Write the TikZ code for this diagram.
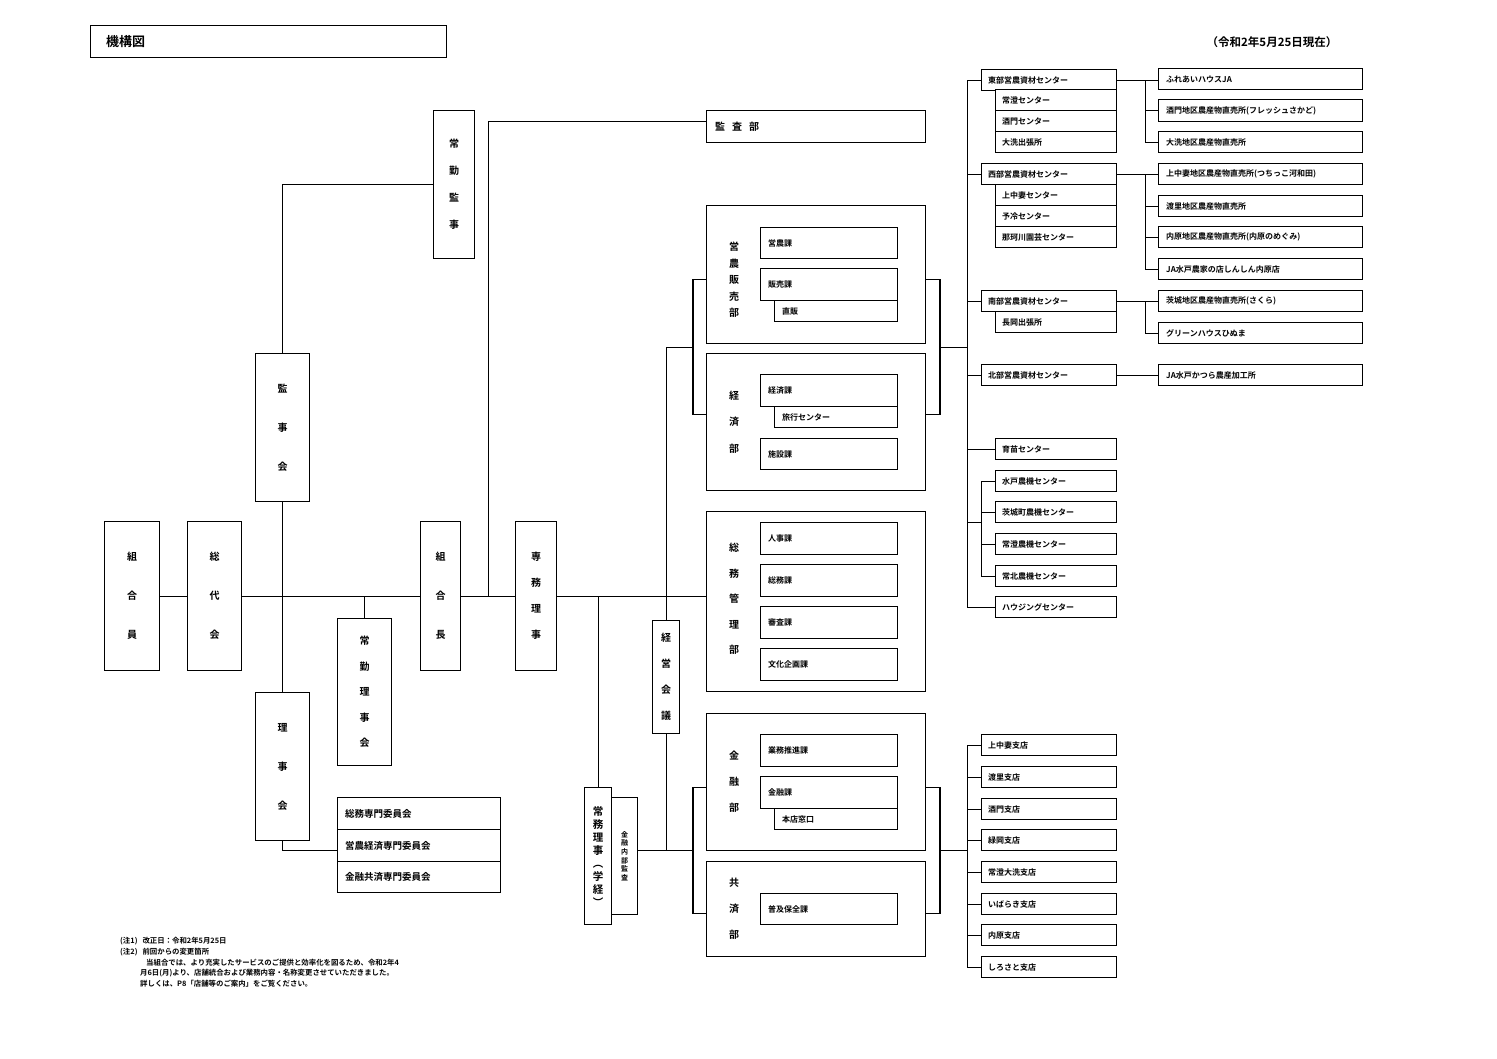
\documentclass[tikz,border=0pt]{standalone}
\usepackage{fontspec}
\newfontfamily\jp{Noto Sans CJK JP}[BoldFont={Noto Sans CJK JP Bold}]
\usetikzlibrary{calc}
\tikzset{
  bx/.style={draw, line width=1.2pt, inner sep=0pt, anchor=north west, fill=white},
  ln/.style={line width=0.9pt},
  tk/.style={line width=1.6pt},
  t8/.style={font=\jp\bfseries\fontsize{8}{9.6}\selectfont, inner sep=0pt},
  vt/.style n args={2}{align=center, inner sep=0pt, font=\jp\bfseries\fontsize{#1}{#2}\selectfont},
  nt/.style={font=\jp\bfseries\fontsize{7.4}{9}\selectfont, inner sep=0pt, anchor=west}
}
\newcommand\hb[7][8]{%
  \node[bx, minimum width=#5, minimum height=#6] (#2) at (#3,#4) {};
  \node[t8, anchor=west] (#2t) at ([xshift=#1]#2.west) {#7};}
\newcommand\vb[8][10]{%
  \node[bx, minimum width=#5, minimum height=#6] (#2) at (#3,#4) {};
  \node[vt={#1}{#7}] (#2t) at (#2.center) {#8};}
\begin{document}
\begin{tikzpicture}[x=1pt,y=-1pt]
\fill[white] (0,0) rectangle (1497,1058);
\useasboundingbox (0,0) rectangle (1497,1058);

% title and date
\hb[16]{title}{90}{25}{356}{32}{\fontsize{13}{15}\selectfont 機構図}
\node[t8, font=\jp\bfseries\fontsize{11.5}{13}\selectfont] (date) at (1272,42) {（令和2年5月25日現在）};

% left governance
\vb{jkanji}{433}{110}{41}{148}{27}{常\\勤\\監\\事}
\hb[9]{kansa}{706}{110}{219}{32}{\fontsize{10}{12}\selectfont 監\hspace{7pt}査\hspace{7pt}部}
\vb{kanjikai}{255}{353}{54}{148}{39}{監\\事\\会}
\vb{kumiaiin}{104}{521}{55}{149}{39}{組\\合\\員}
\vb{sodai}{187}{521}{54}{149}{39}{総\\代\\会}
\vb{kumiaicho}{420}{521}{40}{149}{39}{組\\合\\長}
\vb{senmu}{515}{521}{41}{149}{26}{専\\務\\理\\事}
\vb{jriji}{337}{618}{54}{147}{25.5}{常\\勤\\理\\事\\会}
\vb{rijikai}{255}{692}{54}{148}{39}{理\\事\\会}
\vb{keiei}{652}{620}{27}{113}{26}{経\\営\\会\\議}
\vb[10.5]{jomu}{584}{787}{27}{137}{13}{常\\務\\理\\事\\︵\\学\\経\\︶}
\vb[7]{naibu}{611}{797}{26}{117}{8.6}{金\\融\\内\\部\\監\\査}

\hb{iin1}{337}{797}{163}{32}{\fontsize{9.5}{11}\selectfont 総務専門委員会}
\hb{iin2}{337}{829}{163}{32}{\fontsize{9.5}{11}\selectfont 営農経済専門委員会}
\hb{iin3}{337}{861}{163}{31}{\fontsize{9.5}{11}\selectfont 金融共済専門委員会}

% departments
\node[bx, minimum width=219, minimum height=138] (einou) at (706,205) {};
\node[vt={10}{16.5}] (einout) at (734,280) {営\\農\\販\\売\\部};
\hb{einouka}{760}{227}{137}{31}{営農課}
\hb{chokuhan}{774}{300}{123}{21}{直販}
\hb{hanbai}{760}{268}{137}{32}{販売課}

\node[bx, minimum width=219, minimum height=137] (keizai) at (706,353) {};
\node[vt={10}{26.5}] (keizait) at (734,422) {経\\済\\部};
\hb{ryoko}{774}{406}{123}{21}{旅行センター}
\hb{keizaika}{760}{374}{137}{32}{経済課}
\hb{shisetsu}{760}{438}{137}{31}{施設課}

\node[bx, minimum width=219, minimum height=180] (somu) at (706,511) {};
\node[vt={10}{25.5}] (somut) at (734,599) {総\\務\\管\\理\\部};
\hb{jinji}{760}{522}{137}{32}{人事課}
\hb{somuka}{760}{564}{137}{32}{総務課}
\hb{shinsa}{760}{606}{137}{32}{審査課}
\hb{bunka}{760}{648}{137}{32}{文化企画課}

\node[bx, minimum width=219, minimum height=137] (kinyu) at (706,713) {};
\node[vt={10}{26}] (kinyut) at (734,782) {金\\融\\部};
\hb{gyomu}{760}{734}{137}{32}{業務推進課}
\hb{honten}{774}{808}{123}{21}{本店窓口}
\hb{kinyuka}{760}{776}{137}{32}{金融課}

\node[bx, minimum width=219, minimum height=95] (kyosai) at (706,861) {};
\node[vt={10}{26}] (kyosait) at (734,909) {共\\済\\部};
\hb{fukyu}{760}{893}{137}{31}{普及保全課}

% right: centers
\hb[7]{tobu}{981}{69}{135}{21}{東部営農資材センター}
\hb[7]{tbsa}{995}{89}{121}{21}{常澄センター}
\hb[7]{tbsb}{995}{110}{121}{21}{酒門センター}
\hb[7]{tbsc}{995}{131}{121}{21}{大洗出張所}
\hb{ra}{1158}{68}{204}{21}{ふれあいハウスJA}
\hb{rb}{1158}{99}{204}{22}{酒門地区農産物直売所(フレッシュさかど)}
\hb{rc}{1158}{131}{204}{21}{大洗地区農産物直売所}

\hb[7]{seibu}{981}{163}{135}{21}{西部営農資材センター}
\hb[7]{sbsa}{995}{184}{121}{21}{上中妻センター}
\hb[7]{sbsb}{995}{205}{121}{21}{予冷センター}
\hb[7]{sbsc}{995}{226}{121}{21}{那珂川園芸センター}
\hb{rd}{1158}{163}{204}{21}{上中妻地区農産物直売所(つちっこ河和田)}
\hb{re}{1158}{195}{204}{21}{渡里地区農産物直売所}
\hb{rf}{1158}{226}{204}{21}{内原地区農産物直売所(内原のめぐみ)}
\hb{rg}{1158}{258}{204}{21}{JA水戸農家の店しんしん内原店}

\hb[7]{nanbu}{981}{290}{135}{21}{南部営農資材センター}
\hb[7]{nbsa}{995}{311}{121}{21}{長岡出張所}
\hb{rh}{1158}{290}{204}{21}{茨城地区農産物直売所(さくら)}
\hb{ri}{1158}{322}{204}{21}{グリーンハウスひぬま}

\hb[7]{hokubu}{981}{364}{135}{21}{北部営農資材センター}
\hb{rj}{1158}{364}{204}{21}{JA水戸かつら農産加工所}

\hb[7]{ikubyo}{995}{438}{121}{21}{育苗センター}
\hb[7]{nokia}{995}{470}{121}{21}{水戸農機センター}
\hb[7]{nokib}{995}{501}{121}{21}{茨城町農機センター}
\hb[7]{nokic}{995}{533}{121}{21}{常澄農機センター}
\hb[7]{nokid}{995}{565}{121}{21}{常北農機センター}
\hb[7]{housing}{995}{596}{121}{21}{ハウジングセンター}

% branches
\hb[7]{sta}{981}{734}{135}{21}{上中妻支店}
\hb[7]{stb}{981}{766}{135}{21}{渡里支店}
\hb[7]{stc}{981}{798}{135}{21}{酒門支店}
\hb[7]{std}{981}{829}{135}{21}{緑岡支店}
\hb[7]{ste}{981}{861}{135}{21}{常澄大洗支店}
\hb[7]{stf}{981}{893}{135}{21}{いばらき支店}
\hb[7]{stg}{981}{924}{135}{21}{内原支店}
\hb[7]{sth}{981}{956}{135}{21}{しろさと支店}

% connectors: governance
\draw[ln] (kumiaiin.east) -- (sodai.west);
\draw[ln] (sodai.east) -- (kumiaicho.west);
\draw[ln] (kumiaicho.east) -- (senmu.west);
\draw[ln] (senmu.east) -- (senmu.east -| somu.west);
\draw[ln] (jkanji.west) -| (kanjikai.north);
\draw[ln] (kanjikai.south) -- (rijikai.north);
\draw[ln] (jriji.north) -- (jriji.north |- sodai.east);
\coordinate (ja) at ($(kumiaicho.east)!0.5!(senmu.west)$);
\draw[ln] (ja) |- ([yshift=5pt]kansa.west);
\draw[ln] (rijikai.south) |- ([yshift=-5pt]iin2.west);
\draw[ln] (jomu.north) -- (jomu.north |- senmu.east);

% brackets
\draw[tk] ([yshift=-5pt]einou.west) -- ++(-13,0) |- ([yshift=7.5pt]keizai.west);
\coordinate (bla) at ($([yshift=-5pt]einou.west)!0.5!([yshift=7.5pt]keizai.west)+(-13,0)$);
\draw[ln] (keiei.north) |- (bla);
\draw[tk] ([yshift=-5pt]einou.east) -- ++(14,0) |- ([yshift=7.5pt]keizai.east);
\coordinate (bra) at ($([yshift=-5pt]einou.east)!0.5!([yshift=7.5pt]keizai.east)+(14,0)$);
\coordinate (sp) at (967,0);
\draw[ln] (bra) -- (bra -| sp);

\draw[tk] ([yshift=-5.5pt]kinyu.west) -- ++(-13,0) |- ([yshift=-4.5pt]kyosai.west);
\coordinate (blb) at ($([yshift=-5.5pt]kinyu.west)!0.5!([yshift=-4.5pt]kyosai.west)+(-13,0)$);
\draw[ln] (naibu.east |- blb) -- (blb);
\draw[ln] (keiei.south) -- (keiei.south |- blb);
\draw[tk] ([yshift=-5.5pt]kinyu.east) -- ++(14,0) |- ([yshift=-4.5pt]kyosai.east);
\coordinate (brb) at ($([yshift=-5.5pt]kinyu.east)!0.5!([yshift=-4.5pt]kyosai.east)+(14,0)$);
\draw[ln] (brb) -- (brb -| sp);

% right spine
\draw[ln] (tobu.west) -| (sp |- housing.west) -- (housing.west);
\draw[ln] (seibu.west) -- (seibu.west -| sp);
\draw[ln] (nanbu.west) -- (nanbu.west -| sp);
\draw[ln] (hokubu.west) -- (hokubu.west -| sp);
\draw[ln] (ikubyo.west) -- (ikubyo.west -| sp);
\coordinate (spb) at (981,0);
\draw[ln] (nokia.west) -| (spb |- nokid.west) -- (nokid.west);
\draw[ln] (nokib.west) -- (nokib.west -| spb);
\draw[ln] (nokic.west) -- (nokic.west -| spb);
\coordinate (nk) at ($(nokia.west -| spb)!0.43!(nokid.west -| spb)$);
\draw[ln] (nk) -- (nk -| sp);

% right outlets
\coordinate (rx) at (1145,0);
\draw[ln] (tobu.east) -- (tobu.east -| ra.west);
\draw[ln] (tobu.east -| rx) |- (rb.west);
\draw[ln] (tobu.east -| rx) |- (rc.west);
\draw[ln] (seibu.east) -- (seibu.east -| rd.west);
\draw[ln] (seibu.east -| rx) |- (re.west);
\draw[ln] (seibu.east -| rx) |- (rf.west);
\draw[ln] (seibu.east -| rx) |- (rg.west);
\draw[ln] (nanbu.east) -- (nanbu.east -| rh.west);
\draw[ln] (nanbu.east -| rx) |- (ri.west);
\draw[ln] (hokubu.east) -- (hokubu.east -| rj.west);

% branch spine
\draw[ln] (sta.west) -| (sp |- sth.west) -- (sth.west);
\foreach \s in {stb,stc,std,ste,stf,stg} {\draw[ln] (\s.west) -- (\s.west -| sp);}

% notes
\node[nt] (noteA) at (120,941) {(注1)\hspace{5pt}改正日：令和2年5月25日};
\node[nt] (noteB) at (120,952) {(注2)\hspace{5pt}前回からの変更箇所};
\node[nt] (noteC) at (146,963) {当組合では、より充実したサービスのご提供と効率化を図るため、令和2年4};
\node[nt] (noteD) at (140,973) {月6日(月)より、店舗統合および業務内容・名称変更させていただきました。};
\node[nt] (noteE) at (140,984) {詳しくは、P8「店舗等のご案内」をご覧ください。};
\end{tikzpicture}
\end{document}
